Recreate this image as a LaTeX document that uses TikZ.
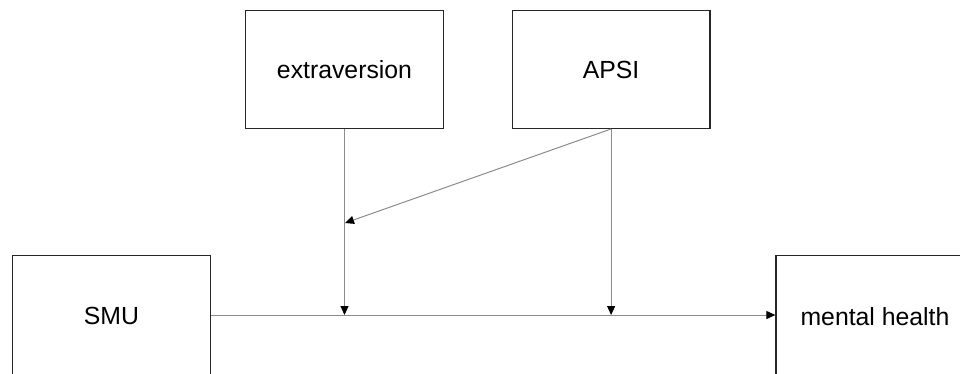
\documentclass[tikz,border=0pt]{standalone}
\usepackage{fontspec}
\setmainfont{Liberation Sans}
\usetikzlibrary{arrows.meta}
\begin{document}
\begin{tikzpicture}[x=1pt,y=-1pt,
  box/.style={draw=black!85, line width=1.3pt, fill=white, inner sep=0pt, font=\fontsize{24.8}{28}\selectfont},
  conn/.style={draw=black!45, line width=1pt},
  arr/.style={conn, -{Triangle[length=9pt,width=8pt,color=black]}}]
\useasboundingbox (0,0) rectangle (960,373);
\fill[white] (0,0) rectangle (960,373);
\node[box, minimum width=197.5pt, minimum height=122pt] (smu) at (111.4,316.3) {SMU};
\node[box, minimum width=198pt, minimum height=122pt] (mh) at (875,316.5) {mental health};
\node[box, minimum width=197.6pt, minimum height=117.6pt] (ext) at (344.5,69.5) {extraversion};
\node[box, minimum width=197.7pt, minimum height=117.6pt] (apsi) at (611.1,69.5) {APSI};
\coordinate (lineY) at (0,315);
\coordinate (j1) at (ext.south |- lineY);
\coordinate (j2) at (apsi.south |- lineY);
\coordinate (j3) at (345,223);
\draw[arr] (smu.east |- lineY) -- (mh.west |- lineY);
\draw[arr] (ext.south) -- (j1);
\draw[arr] (apsi.south) -- (j2);
\draw[arr] (apsi.south) -- (j3);
\end{tikzpicture}
\end{document}
